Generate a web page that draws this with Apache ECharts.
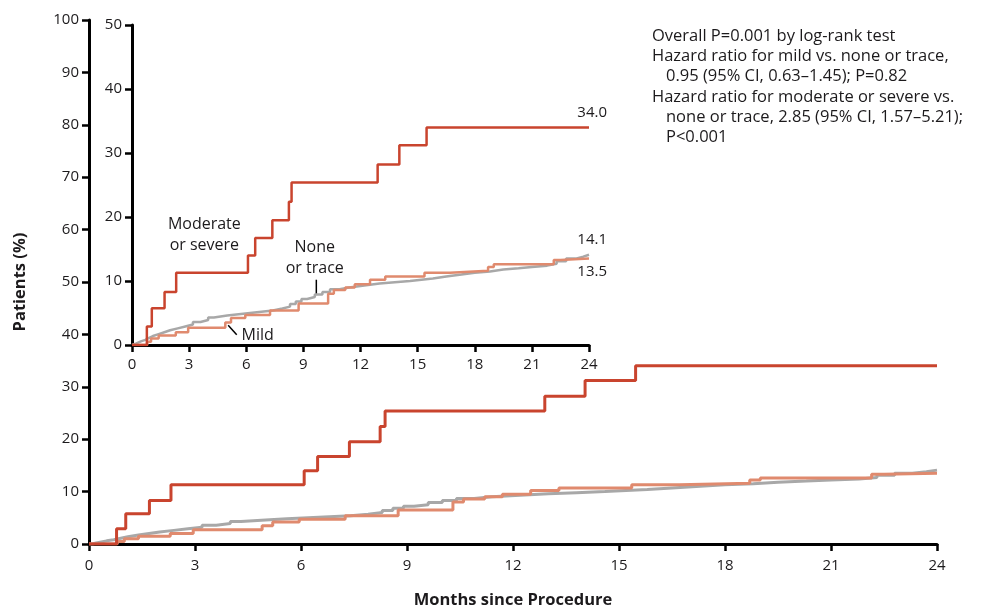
<!DOCTYPE html>
<html>
<head>
<meta charset="utf-8">
<script src="https://cdn.jsdelivr.net/npm/echarts@6/dist/echarts.min.js"></script>
<style>
html,body{margin:0;padding:0;background:#fff;}
#chart{width:989px;height:614px;}
</style>
</head>
<body>
<div id="chart"></div>
<script>
// ---- data ----
const xTicksMonths = [0, 3, 6, 9, 12, 15, 18, 21, 24];
const seriesNames = ['None or trace', 'Mild', 'Moderate or severe'];
const noneOrTrace = [[0,0],[0.1,0.2],[0.2,0.4],[0.35,0.6],[0.5,0.8],[0.7,1.1],[0.9,1.4],[1.1,1.7],[1.4,2.0],[1.7,2.3],[2.0,2.6],[2.4,2.9],[2.8,3.2],[3.2,3.6],[3.6,3.9],[4.0,4.3],[4.3,4.6],[5.0,4.8],[5.6,5.0],[6.2,5.2],[6.8,5.4],[7.4,5.7],[7.9,6.0],[8.3,6.4],[8.6,6.8],[8.9,7.2],[9.2,7.5],[9.6,7.9],[10.0,8.3],[10.4,8.7],[10.9,9.0],[11.4,9.3],[12.2,9.6],[13.0,9.8],[13.8,10.0],[14.6,10.2],[15.2,10.4],[15.8,10.7],[16.5,11.0],[17.3,11.3],[18.0,11.5],[18.8,11.8],[19.5,12.0],[20.3,12.2],[21.0,12.4],[21.8,12.7],[22.3,13.1],[22.8,13.5],[23.3,13.8],[23.7,14.1],[24,14.1]];
const mild = [[0,0],[0.8,0.5],[1.0,1.0],[1.4,1.5],[2.3,2.0],[2.95,2.7],[4.9,3.5],[5.2,4.2],[5.95,4.7],[7.25,5.4],[8.75,6.5],[10.3,8.0],[10.6,8.6],[11.2,9.0],[11.7,9.5],[12.5,10.2],[13.3,10.7],[15.36,11.3],[16.7,11.6],[18.7,12.2],[19.0,12.6],[22.15,13.3],[22.5,13.5],[24,13.5]];
const moderateOrSevere = [[0,0],[0.78,2.9],[1.04,5.75],[1.71,8.3],[2.32,11.3],[6.09,14.0],[6.47,16.7],[7.37,19.5],[8.24,22.4],[8.38,25.4],[12.9,28.2],[14.04,31.2],[15.47,34.0],[24,34.0]];
const endLabels = ['34.0', '14.1', '13.5'];
const annotationLines = [
  'Overall P=0.001 by log-rank test',
  'Hazard ratio for mild vs. none or trace,',
  '0.95 (95% CI, 0.63\u20131.45); P=0.82',
  'Hazard ratio for moderate or severe vs.',
  'none or trace, 2.85 (95% CI, 1.57\u20135.21);',
  'P<0.001'
];

const C_MOD = '#c9442e';
const C_MILD = '#e08a6e';
const C_NONE = '#a8a8a8';
const TXT = '#1c1a1c';
const FONT = 'Open Sans';

const chart = echarts.init(document.getElementById('chart'));

function xAx(gridIndex, showName, margin) {
  return {
    gridIndex, type: 'value', min: 0, max: 24, interval: 3,
    splitLine: {show: false},
    axisLine: {onZero: false, lineStyle: {color: '#000', width: 3}},
    axisTick: {length: 7, lineStyle: {color: '#000', width: 2.5}},
    axisLabel: {color: TXT, fontFamily: FONT, fontSize: 15, margin: margin},
    name: showName ? 'Months since Procedure' : '',
    nameLocation: 'middle', nameGap: 48,
    nameTextStyle: {color: TXT, fontFamily: FONT, fontSize: 16.5, fontWeight: 'bold'}
  };
}
function yAx(gridIndex, max, showName) {
  return {
    gridIndex, type: 'value', min: 0, max: max, interval: 10,
    splitLine: {show: false},
    axisLine: {onZero: false, lineStyle: {color: '#000', width: 3}},
    axisTick: {length: 7, lineStyle: {color: '#000', width: 2.5}},
    axisLabel: {color: TXT, fontFamily: FONT, fontSize: 15, margin: 10},
    name: showName ? 'Patients (%)' : '',
    nameLocation: 'middle', nameGap: 60, nameRotate: 90,
    nameTextStyle: {color: TXT, fontFamily: FONT, fontSize: 16.5, fontWeight: 'bold'}
  };
}
function ser(name, data, color, idx, lw, z) {
  return {
    name, type: 'line', step: 'end', data, xAxisIndex: idx, yAxisIndex: idx,
    showSymbol: false, symbol: 'none', silent: true, z: z,
    lineStyle: {color, width: lw}
  };
}

chart.setOption({
  animation: false,
  backgroundColor: '#fff',
  grid: [
    {left: 89, right: 52, top: 20, bottom: 67},
    {left: 132, right: 400, top: 25, bottom: 269}
  ],
  xAxis: [xAx(0, true, 14), xAx(1, false, 12)],
  yAxis: [yAx(0, 100, true), yAx(1, 50, false)],
  series: [
    ser(seriesNames[0], noneOrTrace, C_NONE, 0, 3, 2),
    ser(seriesNames[1], mild, C_MILD, 0, 3, 3),
    ser(seriesNames[2], moderateOrSevere, C_MOD, 0, 3, 4),
    ser(seriesNames[0], noneOrTrace, C_NONE, 1, 2.5, 2),
    ser(seriesNames[1], mild, C_MILD, 1, 2.5, 3),
    ser(seriesNames[2], moderateOrSevere, C_MOD, 1, 2.5, 4)
  ]
});

function P(x, y) { return chart.convertToPixel({gridIndex: 1}, [x, y]); }
const last = a => a[a.length - 1];
const txt = (x, y, s, align, size) => ({
  type: 'text', x, y, silent: true,
  style: {text: s, fill: TXT, font: (size || 16) + 'px "' + FONT + '"', textAlign: align || 'left', textVerticalAlign: 'middle'}
});

const g = [];
const pMod = P(24, last(moderateOrSevere)[1]);
const pNone = P(24, last(noneOrTrace)[1]);
const pMild = P(24, last(mild)[1]);
g.push(txt(pMod[0] + 18, pMod[1] - 15, endLabels[0], 'right', 15));
g.push(txt(pNone[0] + 18, pNone[1] - 15, endLabels[1], 'right', 15));
g.push(txt(pMild[0] + 18, pMild[1] + 13, endLabels[2], 'right', 15));
let p = P(3.8, 18.9); g.push(txt(p[0], p[1], 'Moderate', 'center'));
p = P(3.8, 15.5); g.push(txt(p[0], p[1], 'or severe', 'center'));
p = P(9.6, 15.3); g.push(txt(p[0], p[1], 'None', 'center'));
p = P(9.6, 12.0); g.push(txt(p[0], p[1], 'or trace', 'center'));
p = P(6.6, 1.45); g.push(txt(p[0], p[1], 'Mild', 'center'));
let a = P(9.68, 10.2), b = P(9.68, 7.8);
g.push({type: 'line', silent: true, shape: {x1: a[0], y1: a[1], x2: b[0], y2: b[1]}, style: {stroke: '#000', lineWidth: 1.5}});
a = P(5.05, 3.1); b = P(5.5, 1.6);
g.push({type: 'line', silent: true, shape: {x1: a[0], y1: a[1], x2: b[0], y2: b[1]}, style: {stroke: '#000', lineWidth: 1.5}});

const annX = 652, annIndent = 666, annTop = 36, annLH = 20;
const indentFlags = [false, false, true, false, true, true];
annotationLines.forEach((s, i) => {
  const yy = annTop + i * annLH + (i >= 3 ? 1 : 0);
  g.push(txt(indentFlags[i] ? annIndent : annX, yy, s, 'left', 16.5));
});

chart.setOption({graphic: g});
</script>
</body>
</html>
